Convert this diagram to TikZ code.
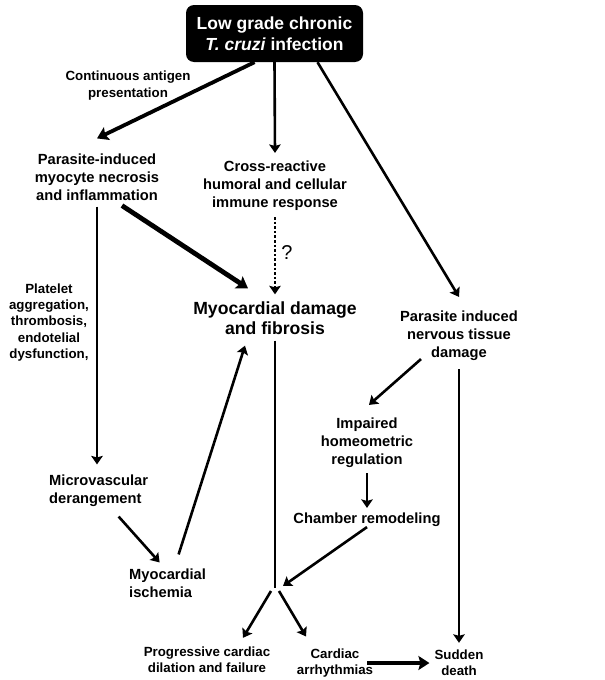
\documentclass[tikz,border=0pt]{standalone}
\usepackage{fontspec}
\setmainfont{Liberation Sans}
\usepackage{tikz}
\usetikzlibrary{arrows.meta}

\tikzset{
  txt/.style={align=center, inner sep=0pt, font=\fontsize{14.7}{18}\selectfont\bfseries},
  small/.style={align=center, inner sep=0pt, font=\fontsize{13.3}{16.2}\selectfont\bfseries},
  big/.style={align=center, inner sep=0pt, font=\fontsize{17.6}{20}\selectfont\bfseries},
  conn/.style={-{Stealth[length=8.5pt,width=11.5pt,inset=1.5pt]}, line width=2.6pt},
  thickconn/.style={-{Stealth[length=11pt,width=14pt,inset=2pt]}, line width=3.8pt},
}

\begin{document}
\begin{tikzpicture}[x=1pt,y=-1pt]
		\useasboundingbox (0,0) rectangle (605,680);
		% блоки
		\node [fill=black, rounded corners=8pt, text=white, align=center, inner sep=0pt,
		       minimum width=177pt, minimum height=57pt,
		       font=\fontsize{17.5}{21}\selectfont\bfseries] (infect) at (274.5,33.5)
		      {Low grade chronic\\\textit{T. cruzi} infection};
		\node [small] (antigen) at (128,85.5) {Continuous antigen\\presentation};
		\node [txt] (necrosis) at (97,177) {Parasite-induced\\myocyte necrosis\\and inflammation};
		\node [txt] (cross) at (275,186) {Cross-reactive\\humoral and cellular\\immune response};
		\node [big] (damage) at (275,318) {Myocardial damage\\and fibrosis};
		\node [font=\fontsize{20}{22}\selectfont, inner sep=0pt] (quest) at (287,253) {?};
		\node [small] (platelet) at (49,322.5) {Platelet\\aggregation,\\thrombosis,\\endotelial\\dysfunction,};
		\node [txt] (nervous) at (459,336) {Parasite induced\\nervous tissue\\damage};
		\node [txt, align=left, anchor=west] (micro) at (49,490.5) {Microvascular\\derangement};
		\node [txt, align=left, anchor=west] (ischemia) at (129,583) {Myocardial\\ischemia};
		\node [txt] (impaired) at (367,443) {Impaired\\homeometric\\regulation};
		\node [txt] (chamber) at (367,520) {Chamber remodeling};
		\coordinate (junc) at (275,588);
		\node [small] (failure) at (207,660) {Progressive cardiac\\dilation and failure};
		\node [small] (arrhyth) at (335,663) {Cardiac\\arrhythmias};
		\node [small] (sudden) at (459,663) {Sudden\\death};
		% стрелки от инфекции
		\draw [thickconn] ([xshift=-20pt]infect.south) -- ([yshift=15pt]necrosis.north);
		\draw [conn] (infect.south) -- ([yshift=8pt]cross.north);
		\draw [conn] ([xshift=43pt]infect.south) -- ([yshift=14pt]nervous.north);
		\draw [conn, dotted] ([yshift=-6pt]cross.south) -- ([yshift=7pt]damage.north);
		\draw [thickconn, line width=4.8pt] ([xshift=25pt,yshift=-5pt]necrosis.south) -- ([xshift=-27pt,yshift=13pt]damage.north);
		% левая ветвь
		\draw [conn] ([yshift=-6pt]necrosis.south) -- ([yshift=10pt]necrosis.south |- micro.north);
		\draw [conn] ([xshift=20pt,yshift=-10pt]micro.south) -- ([xshift=-8pt,yshift=6pt]ischemia.north);
		\draw [conn] ([xshift=11pt,yshift=14pt]ischemia.north) -- ([xshift=-30pt,yshift=-11pt]damage.south);
		% центр
		\draw [line width=2.6pt] ([yshift=-6pt]damage.south) -- (junc);
		% правая ветвь
		\draw [conn] ([xshift=-38pt,yshift=2pt]nervous.south) -- ([xshift=2pt,yshift=13pt]impaired.north);
		\draw [conn] ([yshift=-5pt]impaired.south) -- ([yshift=5pt]chamber.north);
		\draw [conn] (chamber.south) -- ([xshift=8pt,yshift=2pt]junc);
		\draw [conn] ([yshift=-8pt]nervous.south) -- ([yshift=7pt]nervous.south |- sudden.north);
		% исходы
		\draw [conn] ([xshift=-4pt,yshift=-3pt]junc) -- ([xshift=36pt,yshift=9pt]failure.north);
		\draw [conn] ([xshift=4pt,yshift=-3pt]junc) -- ([xshift=-29pt,yshift=12pt]arrhyth.north);
		\draw [thickconn, line width=3.3pt] ([xshift=-6pt]arrhyth.east) -- ([xshift=-5pt]sudden.west);
\end{tikzpicture}
\end{document}
